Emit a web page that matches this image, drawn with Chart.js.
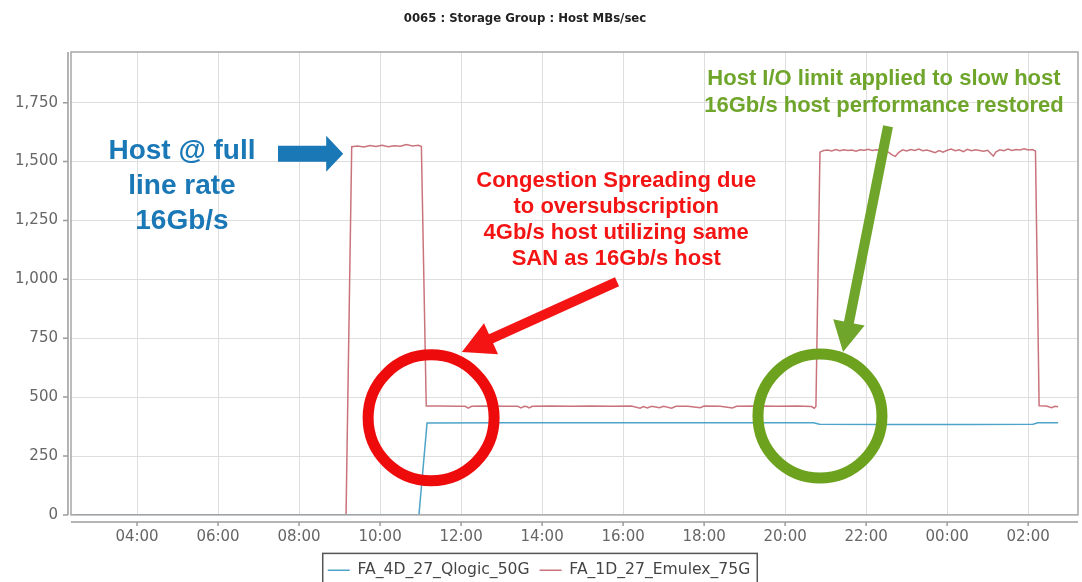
<!DOCTYPE html>
<html>
  <head>
    <title>Storage Group : Host MBs/sec</title>
    <script src="https://cdn.jsdelivr.net/npm/chart.js@4/dist/chart.umd.min.js"></script>
    <style>
      html,body{
        margin: 0;
        padding: 0;
        background: #fff;
        overflow: hidden;
      }
      #title{
        position: absolute;
        left: 0;
        top: 10px;
        width: 1050px;
        text-align: center;
        font-family: "Liberation Sans Narrow", "DejaVu Sans Condensed", sans-serif;
        font-weight: bold;
        font-size: 13px;
        color: #222;
      }
      #container{
        position: relative;
        width: 1082px;
        height: 588px;
      }
    </style>
  </head>
  <body>
    <div id="container">
      <div id="title"></div>
      <canvas id="myChart"></canvas>
    </div>

    <script>
      const titleText = '0065 : Storage Group : Host MBs/sec'
      const seriesNames = ['FA_4D_27_Qlogic_50G', 'FA_1D_27_Emulex_75G']

      // hours counted from midnight of the first day (26 = 02:00 next day)
      const qlogicHours = [2.45, 10.96, 11.16, 13.0, 15.0, 17.0, 19.0, 20.70, 20.85, 22.5, 24.5, 26.12, 26.24, 26.74]
      const qlogicMBs   = [0,    0,     390,   391,  391,  391,  391,  391,   385,   384,  384,  385,   391,   391]

      const emulexHours = [
        2.45, 9.16, 9.30, 9.45, 9.60, 9.75, 9.90, 10.05, 10.20, 10.35, 10.50, 10.65, 10.80, 10.95, 11.02,
        11.14, 11.50, 11.90, 12.10, 12.18, 12.26, 12.60, 13.00, 13.40, 13.48, 13.56, 13.62, 13.68, 13.76,
        14.20, 14.70, 15.20, 15.70, 16.20, 16.42, 16.50, 16.60, 16.70, 16.90, 17.00, 17.20, 17.30, 17.60,
        17.90, 18.00, 18.40, 18.70, 18.80, 19.30, 19.80, 20.30, 20.65, 20.72, 20.76,
        20.86, 20.95, 21.05, 21.15, 21.25, 21.35, 21.45, 21.55, 21.65, 21.75, 21.85, 21.95, 22.05, 22.15,
        22.25, 22.35, 22.45, 22.55, 22.65, 22.72, 22.80, 22.90, 23.00, 23.10, 23.20, 23.30, 23.40, 23.50,
        23.60, 23.70, 23.80, 23.90, 24.00, 24.10, 24.20, 24.30, 24.40, 24.50, 24.60, 24.70, 24.80, 24.90,
        25.00, 25.08, 25.14, 25.20, 25.30, 25.40, 25.50, 25.60, 25.70, 25.80, 25.90, 26.00, 26.10, 26.18,
        26.27, 26.45, 26.58, 26.66, 26.74
      ]
      const emulexMBs = [
        0, 0, 1563, 1566, 1562, 1568, 1564, 1569, 1563, 1567, 1565, 1572, 1566, 1569, 1564,
        462, 462, 461, 461, 453, 461, 462, 461, 461, 454, 461, 460, 454, 461,
        462, 461, 462, 461, 462, 453, 460, 454, 461, 455, 461, 453, 461, 461,
        455, 462, 461, 454, 461, 462, 461, 462, 460, 453, 460,
        1540, 1547, 1549, 1545, 1551, 1546, 1550, 1547, 1549, 1544, 1550, 1548, 1552, 1547,
        1550, 1548, 1545, 1540, 1527, 1522, 1538, 1550, 1545, 1551, 1547, 1553, 1546, 1549,
        1544, 1538, 1547, 1540, 1548, 1553, 1546, 1550, 1542, 1552, 1546, 1550, 1547, 1544,
        1548, 1533, 1523, 1540, 1550, 1546, 1553, 1547, 1551, 1549, 1554, 1549, 1551, 1545,
        463, 462, 455, 461, 459
      ]

      const xTickHours  = [4, 6, 8, 10, 12, 14, 16, 18, 20, 22, 24, 26]
      const xTickLabels = ['04:00', '06:00', '08:00', '10:00', '12:00', '14:00', '16:00', '18:00', '20:00', '22:00', '00:00', '02:00']
      const yTickValues = [0, 250, 500, 750, 1000, 1250, 1500, 1750]

      const hostNoteLines = ['Host @ full', 'line rate', '16Gb/s']
      const congestionNoteLines = ['Congestion Spreading due', 'to oversubscription', '4Gb/s host utilizing same', 'SAN as 16Gb/s host']
      const limitNoteLines = ['Host I/O limit applied to slow host', '16Gb/s host performance restored']

      // where the call-outs sit, in chart units (hour, MB/s)
      const notes = [
        {lines: hostNoteLines, hour: 5.11, mbs: 1542, size: 28, step: 35, color: '#1a78b6'},
        {lines: congestionNoteLines, hour: 15.83, mbs: 1419, size: 22, step: 26, color: '#f41414'},
        {lines: limitNoteLines, hour: 22.44, mbs: 1852, size: 22, step: 27, color: '#6fa52b'},
      ]
      const arrows = [
        {from: [7.48, 1533], to: [9.09, 1533], shaft: 16, head: 17, width: 36, color: '#1a78b6'},
        {from: [15.85, 990], to: [12.02, 692], shaft: 10, head: 32, width: 34, color: '#f41414'},
        {from: [22.54, 1650], to: [21.43, 692], shaft: 10, head: 30, width: 32, color: '#6fa52b'},
      ]
      const rings = [
        {hour: 11.26, mbs: 412, radius: 63, color: '#ee0b0b'},
        {hour: 20.86, mbs: 420, radius: 62, color: '#6da21f'},
      ]

      document.getElementById('title').textContent = titleText

      function pontos(hours, values){
        return hours.map((h, i) => ({x: h, y: values[i]}))
      }

      function desenharSeta(ctx, x0, y0, x1, y1, shaft, head, width){
        const ang = Math.atan2(y1 - y0, x1 - x0)
        const len = Math.hypot(x1 - x0, y1 - y0)
        ctx.save()
        ctx.translate(x0, y0)
        ctx.rotate(ang)
        ctx.beginPath()
        ctx.moveTo(0, -shaft/2)
        ctx.lineTo(len - head, -shaft/2)
        ctx.lineTo(len - head, -width/2)
        ctx.lineTo(len, 0)
        ctx.lineTo(len - head, width/2)
        ctx.lineTo(len - head, shaft/2)
        ctx.lineTo(0, shaft/2)
        ctx.closePath()
        ctx.fill()
        ctx.restore()
      }

      const molduraPlugin = {
        id: 'moldura',
        afterDraw(chart){
          const ctx = chart.ctx
          const a = chart.chartArea
          const x = chart.scales.x
          const y = chart.scales.y
          ctx.save()

          // plot box
          ctx.strokeStyle = '#a6a6a6'
          ctx.lineWidth = 1.5
          ctx.strokeRect(a.left, a.top, a.right - a.left, a.bottom - a.top)

          // axis lines, set a little apart from the box, with tick marks
          ctx.strokeStyle = '#9c9c9c'
          ctx.lineWidth = 1.5
          ctx.beginPath()
          ctx.moveTo(a.left - 3, a.top)
          ctx.lineTo(a.left - 3, a.bottom)
          y.ticks.forEach(t => {
            const py = y.getPixelForValue(t.value)
            ctx.moveTo(a.left - 8, py)
            ctx.lineTo(a.left - 3, py)
          })
          ctx.moveTo(a.left, a.bottom + 7)
          ctx.lineTo(a.right, a.bottom + 7)
          x.ticks.forEach(t => {
            const px = x.getPixelForValue(t.value)
            ctx.moveTo(px, a.bottom + 7)
            ctx.lineTo(px, a.bottom + 11)
          })
          ctx.stroke()

          // frame round the legend
          const hb = chart.legend.legendHitBoxes
          if(hb && hb.length){
            const first = hb[0]
            const last = hb[hb.length - 1]
            ctx.strokeStyle = '#555'
            ctx.lineWidth = 1.5
            ctx.strokeRect(first.left - 5, first.top - 9, last.left + last.width - first.left + 12, 40)
          }

          // call-outs
          rings.forEach(r => {
            ctx.beginPath()
            ctx.strokeStyle = r.color
            ctx.lineWidth = 11
            ctx.arc(x.getPixelForValue(r.hour), y.getPixelForValue(r.mbs), r.radius, 0, Math.PI*2)
            ctx.stroke()
          })
          arrows.forEach(s => {
            ctx.fillStyle = s.color
            desenharSeta(ctx,
              x.getPixelForValue(s.from[0]), y.getPixelForValue(s.from[1]),
              x.getPixelForValue(s.to[0]), y.getPixelForValue(s.to[1]),
              s.shaft, s.head, s.width)
          })
          notes.forEach(n => {
            ctx.fillStyle = n.color
            ctx.font = 'bold ' + n.size + 'px "Liberation Sans", Arial, sans-serif'
            ctx.textAlign = 'center'
            ctx.textBaseline = 'middle'
            const px = x.getPixelForValue(n.hour)
            const py = y.getPixelForValue(n.mbs)
            n.lines.forEach((l, i) => ctx.fillText(l, px, py + i*n.step))
          })
          ctx.restore()
        }
      }

      const tickFont = {family: '"DejaVu Sans", Verdana, sans-serif', size: 15}

      const ctx = document.getElementById('myChart').getContext('2d')
      const myChart = new Chart(ctx, {
        type: 'line',
        data: {
          datasets: [
            {
              label: seriesNames[0],
              data: pontos(qlogicHours, qlogicMBs),
              borderColor: '#4ea3c9',
              backgroundColor: '#4ea3c9',
              borderWidth: 1.5,
              pointRadius: 0,
              tension: 0,
              fill: false,
            },
            {
              label: seriesNames[1],
              data: pontos(emulexHours, emulexMBs),
              borderColor: '#c9747c',
              backgroundColor: '#c9747c',
              borderWidth: 1.5,
              pointRadius: 0,
              tension: 0,
              fill: false,
            },
          ]
        },
        options: {
          responsive: true,
          maintainAspectRatio: false,
          animation: false,
          layout: {padding: {top: 52, right: 4, left: 0, bottom: 0}},
          plugins: {
            title: {display: false},
            tooltip: {enabled: false},
            legend: {
              position: 'bottom',
              labels: {
                usePointStyle: true,
                pointStyle: 'line',
                pointStyleWidth: 22,
                boxHeight: 10,
                padding: 10,
                color: '#444',
                font: {family: '"DejaVu Sans", Verdana, sans-serif', size: 15.6},
              }
            }
          },
          scales: {
            x: {
              type: 'linear',
              min: 2.37,
              max: 27.23,
              afterBuildTicks: s => { s.ticks = xTickHours.map(v => ({value: v})) },
              afterFit: s => { s.height = 37.5 },
              border: {display: false},
              grid: {color: '#dedede', borderDash: [2, 3], drawTicks: false, lineWidth: 1},
              ticks: {
                padding: 13,
                color: '#666',
                font: tickFont,
                autoSkip: false,
                maxRotation: 0,
                callback: (v, i) => xTickLabels[i],
              }
            },
            y: {
              min: 0,
              max: 1965,
              afterBuildTicks: s => { s.ticks = yTickValues.map(v => ({value: v})) },
              afterFit: s => { s.width = 71 },
              border: {display: false},
              grid: {color: '#dedede', borderDash: [2, 3], drawTicks: false, lineWidth: 1},
              ticks: {
                padding: 13,
                color: '#666',
                font: tickFont,
                callback: v => v.toLocaleString('en-US'),
              }
            }
          }
        },
        plugins: [molduraPlugin]
      })
    </script>
  </body>
</html>
